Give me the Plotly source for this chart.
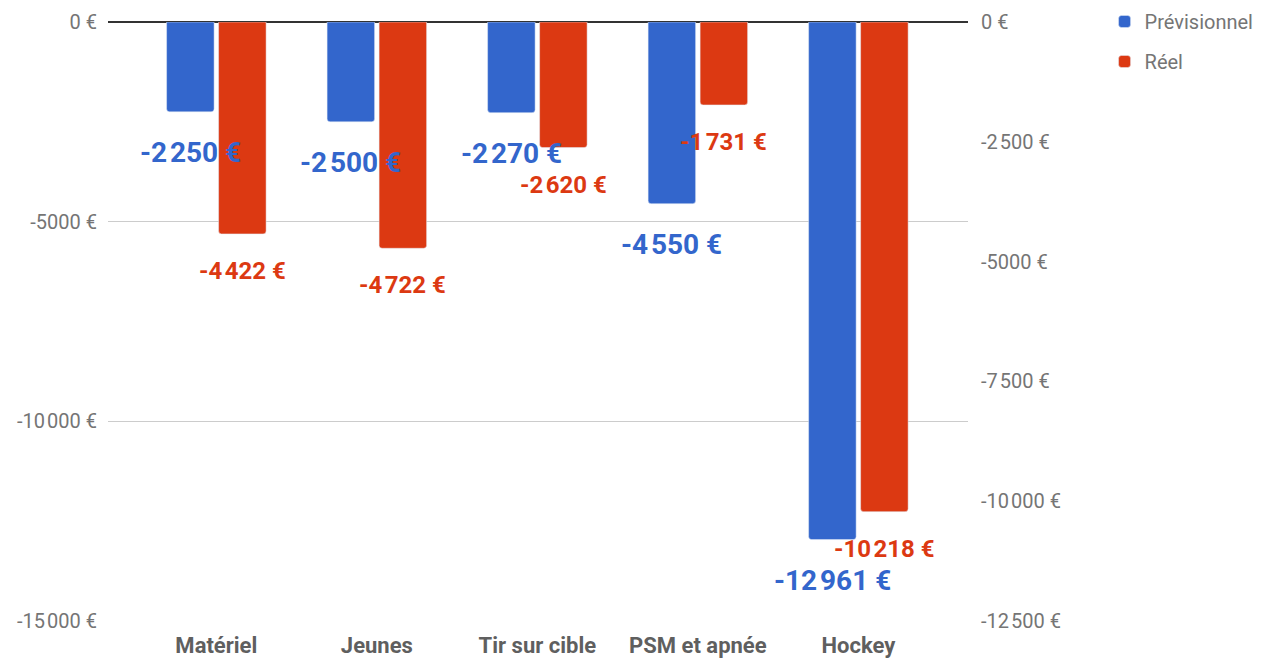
import plotly.graph_objects as go

categories = ["Matériel", "Jeunes", "Tir sur cible", "PSM et apnée", "Hockey"]
previsionnel = [-2250, -2500, -2270, -4550, -12961]
reel = [-4422, -4722, -2620, -1731, -10218]
series_names = ["Prévisionnel", "Réel"]

SP = "\u200a"
left_tickvals = [0, -5000, -10000, -15000]
left_ticktext = ["0 €", "-5000 €", f"-10{SP}000 €", f"-15{SP}000 €"]
right_tickvals = [0, -2500, -5000, -7500, -10000, -12500]
right_ticktext = ["0 €", f"-2{SP}500 €", "-5000 €", f"-7{SP}500 €", f"-10{SP}000 €", f"-12{SP}500 €"]

BLUE = "#3366CC"
RED = "#DC3912"
FONT = "Roboto"


def fmt(v):
    s = f"{abs(v):,}".replace(",", SP)
    return ("-" if v < 0 else "") + s + " €"


W = 0.296
fig = go.Figure()
fig.add_trace(go.Bar(
    x=categories, y=previsionnel, name=series_names[0], yaxis="y",
    marker=dict(color=BLUE, cornerradius=3), width=W, offset=-0.31,
    legendgroup="a", hoverinfo="x+y",
))
fig.add_trace(go.Bar(
    x=categories, y=reel, name=series_names[1], yaxis="y2",
    marker=dict(color=RED, cornerradius=3), width=W, offset=0.014,
    legendgroup="b", hoverinfo="x+y",
))

annotations = []
for c, v in zip(categories, previsionnel):
    annotations.append(dict(
        x=c, y=v, xref="x", yref="y", text=fmt(v), showarrow=False,
        xshift=-26, yshift=-41, yanchor="middle",
        font=dict(family=FONT, size=28, color=BLUE, weight="bold"),
    ))
for c, v in zip(categories, reel):
    annotations.append(dict(
        x=c, y=v, xref="x", yref="y2", text=fmt(v), showarrow=False,
        xshift=26, yshift=-37, yanchor="middle",
        font=dict(family=FONT, size=24, color=RED, weight="bold"),
    ))

fig.update_layout(
    width=1262, height=661,
    margin=dict(l=108, r=294, t=22, b=40, autoexpand=False),
    paper_bgcolor="white", plot_bgcolor="white",
    font=dict(family=FONT, color="#757575"),
    barmode="overlay",
    showlegend=True,
    legend=dict(
        xref="paper", yref="paper",
        x=1.1588, y=1.0334, xanchor="left", yanchor="top",
        font=dict(family=FONT, size=20, color="#757575"),
        bgcolor="rgba(0,0,0,0)", tracegroupgap=11, traceorder="grouped",
        itemwidth=30,
    ),
    xaxis=dict(
        type="category", range=[-0.675, 4.683], automargin=False,
        showgrid=False, showline=False, ticks="",
        tickfont=dict(family=FONT, size=22, color="#5f5f5f", weight="bold"),
        ticklabelstandoff=9,
    ),
    yaxis=dict(
        range=[-15000, 0], tickvals=left_tickvals, ticktext=left_ticktext,
        automargin=False,
        showgrid=True, gridcolor="#cccccc", gridwidth=1,
        zeroline=True, zerolinecolor="#333333", zerolinewidth=1.5,
        showline=False, ticks="",
        tickfont=dict(family=FONT, size=20, color="#757575"),
        ticklabelstandoff=10,
    ),
    yaxis2=dict(
        range=[-12500, 0], tickvals=right_tickvals, ticktext=right_ticktext,
        overlaying="y", side="right", automargin=False,
        showgrid=False, zeroline=False, showline=False, ticks="",
        tickfont=dict(family=FONT, size=20, color="#757575"),
        ticklabelstandoff=12,
    ),
    annotations=annotations,
)

# remove the browser's default 8px body margin so the figure fills the window
fig.write_html(
    "out.html",
    config={"displayModeBar": False},
    post_script="document.body.style.margin='0px';",
)
